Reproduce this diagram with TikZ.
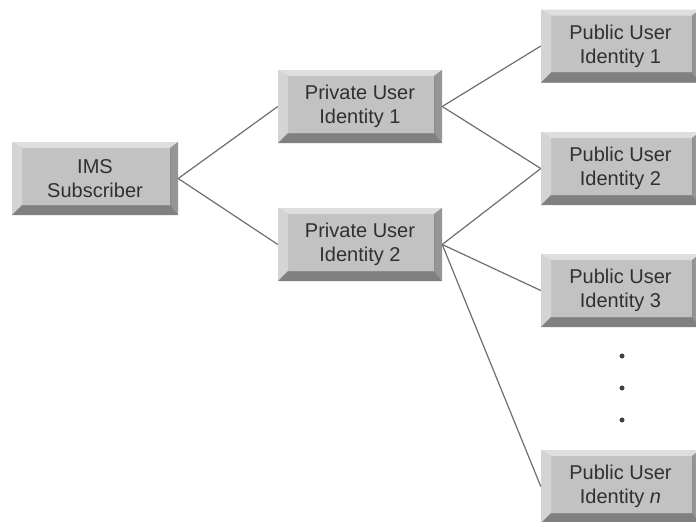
\documentclass[tikz,border=0pt]{standalone}
\usepackage{fontspec}
\setmainfont{Liberation Sans}
\definecolor{face}{RGB}{194,194,194}
\definecolor{bevtop}{RGB}{222,222,222}
\definecolor{bevleft}{RGB}{212,212,212}
\definecolor{bevright}{RGB}{150,150,150}
\definecolor{bevbottom}{RGB}{128,128,128}
\definecolor{inktext}{RGB}{48,48,48}
\definecolor{wire}{RGB}{110,110,110}
\tikzset{
  bevelbox/.style={
    fill=face, minimum width=#1, minimum height=73pt, inner sep=0pt,
    align=center, text=inktext,
    font=\fontsize{20}{24}\selectfont,
    path picture={
      \coordinate (nw) at (path picture bounding box.north west);
      \coordinate (ne) at (path picture bounding box.north east);
      \coordinate (sw) at (path picture bounding box.south west);
      \coordinate (se) at (path picture bounding box.south east);
      \coordinate (inw) at ([xshift=10pt,yshift=-6pt]nw);
      \coordinate (ine) at ([xshift=-8pt,yshift=-6pt]ne);
      \coordinate (isw) at ([xshift=10pt,yshift=10pt]sw);
      \coordinate (ise) at ([xshift=-8pt,yshift=10pt]se);
      \fill[bevtop] (nw) -- (ne) -- (ine) -- (inw) -- cycle;
      \fill[bevleft] (nw) -- (inw) -- (isw) -- (sw) -- cycle;
      \fill[bevright] (ne) -- (se) -- (ise) -- (ine) -- cycle;
      \fill[bevbottom] (sw) -- (se) -- (ise) -- (isw) -- cycle;
      \draw[black!45, line width=0.8pt] (ine) -- (ise) -- (isw);
    }
  },
  bevelbox/.default=164pt,
  wireline/.style={draw=wire, line width=1.2pt},
  dot/.style={circle, fill=black!75, inner sep=0pt, minimum size=5pt}
}
\begin{document}
\begin{tikzpicture}[x=1pt,y=-1pt]
  \useasboundingbox (0,0) rectangle (696,522);
  \clip (0,0) rectangle (696,522);

  % subscriber and its private identities
  \node[bevelbox=166pt] (ims) at (95,178.5) {IMS\\Subscriber};
  \node[bevelbox] (priv1) at (360,106.5) {Private User\\Identity 1};
  \node[bevelbox] (priv2) at (360,244.5) {Private User\\Identity 2};

  % public identities
  \node[bevelbox=159pt] (pub1) at (620.5,46) {Public User\\Identity 1};
  \node[bevelbox=159pt] (pub2) at (620.5,168.5) {Public User\\Identity 2};
  \node[bevelbox=159pt] (pub3) at (620.5,290.5) {Public User\\Identity 3};
  \node[bevelbox=159pt] (pubn) at (620.5,486.5) {Public User\\Identity \textit{n}};

  % ellipsis between identity 3 and identity n
  \node[dot] (d1) at (622,356) {};
  \node[dot] (d2) at (622,388) {};
  \node[dot] (d3) at (622,420) {};

  % connectors
  \draw[wireline] (ims.east) -- (priv1.west);
  \draw[wireline] (ims.east) -- (priv2.west);
  \draw[wireline] (priv1.east) -- (pub1.west);
  \draw[wireline] (priv1.east) -- (pub2.west);
  \draw[wireline] (priv2.east) -- (pub2.west);
  \draw[wireline] (priv2.east) -- (pub3.west);
  \draw[wireline] (priv2.east) -- (pubn.west);
\end{tikzpicture}
\end{document}
